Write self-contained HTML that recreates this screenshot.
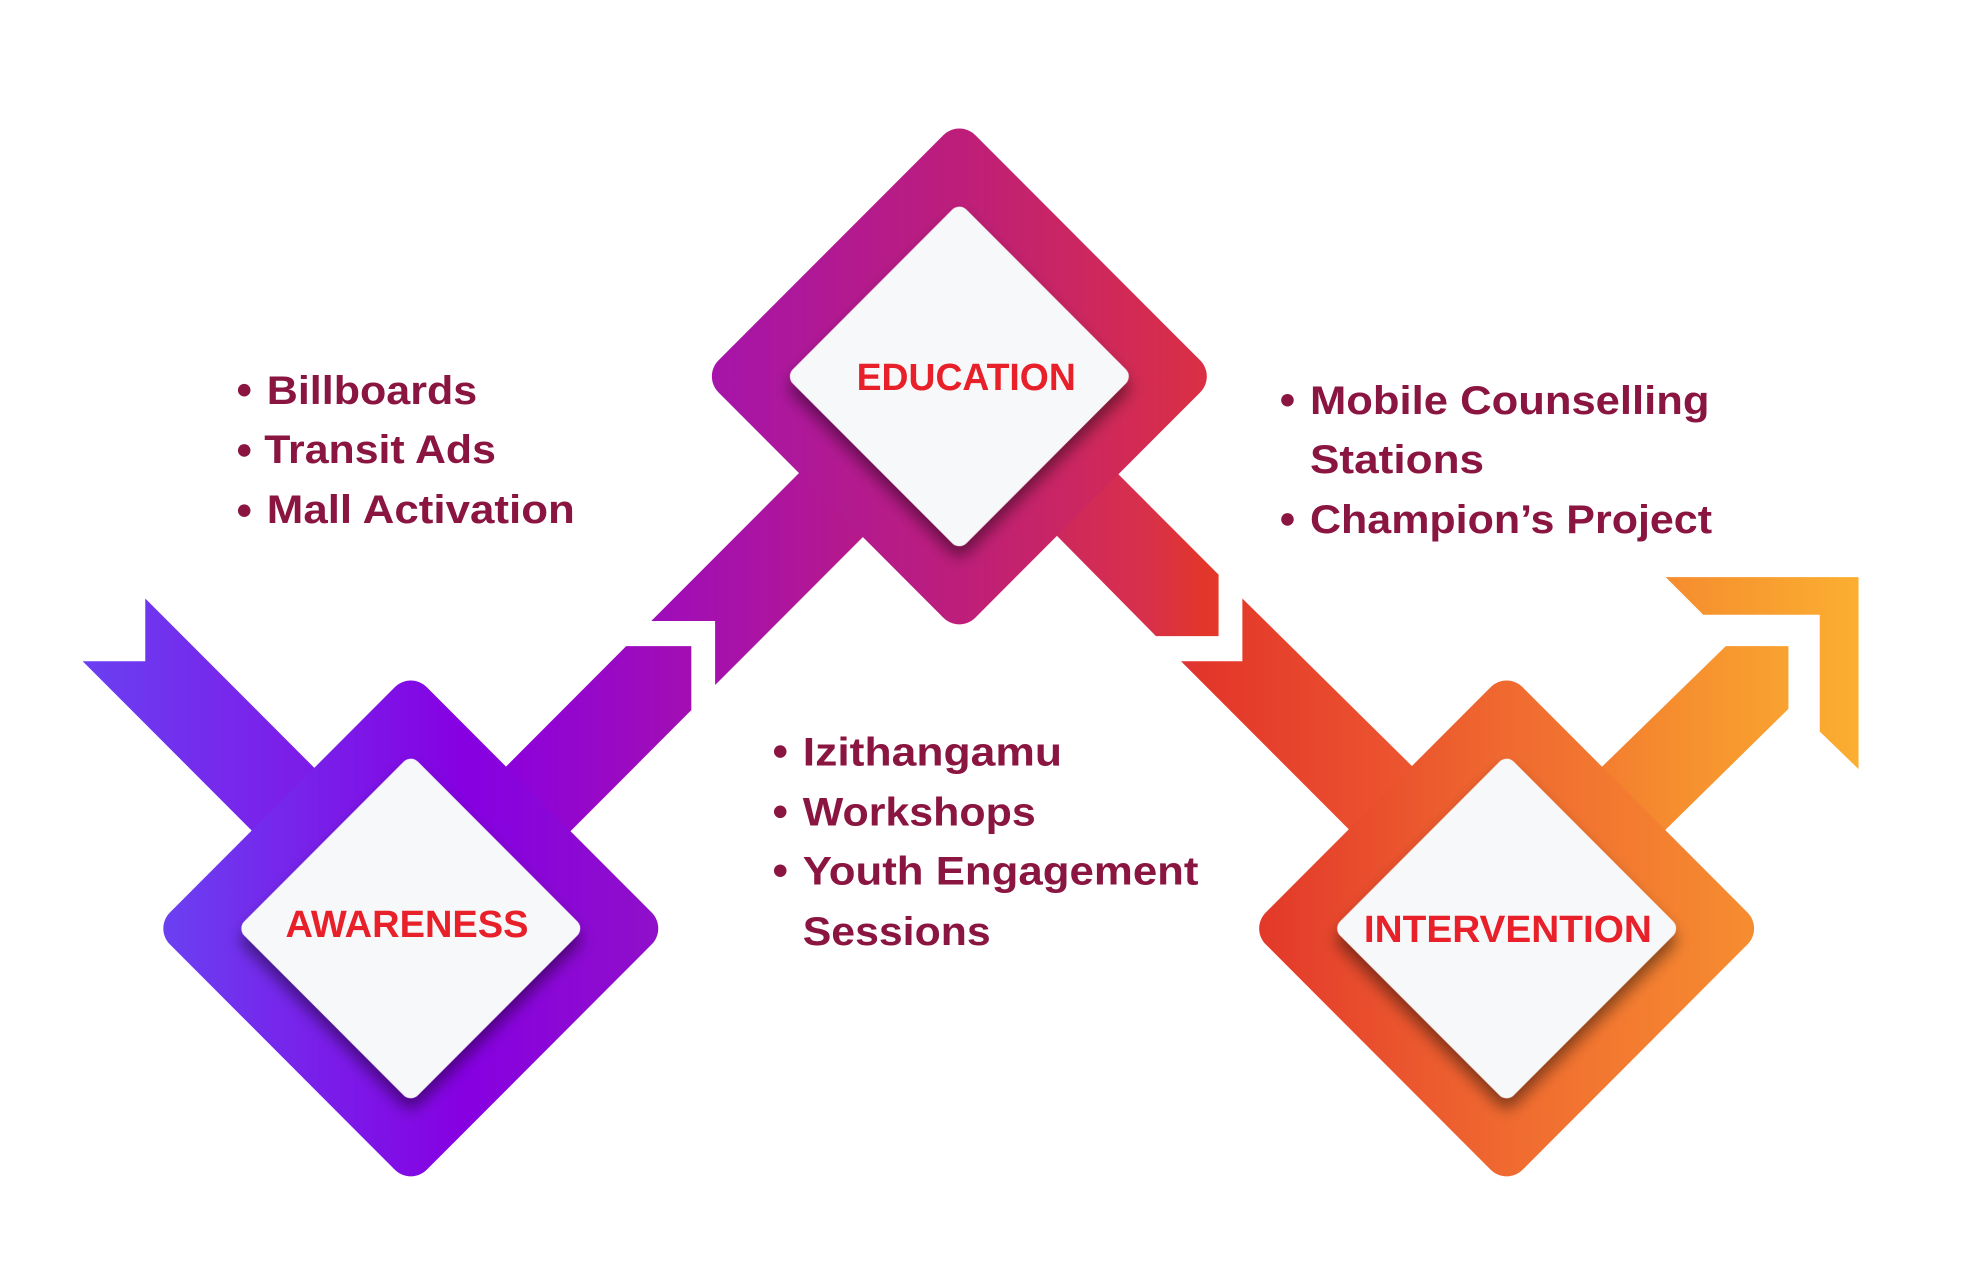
<!DOCTYPE html>
<html><head><meta charset="utf-8"><style>
html,body{margin:0;padding:0;background:#fff;}
svg{display:block;}
text{font-family:"Liberation Sans",sans-serif;font-weight:bold;}
</style></head><body>
<svg width="1965" height="1276" viewBox="0 0 1569 1017" preserveAspectRatio="none" xmlns="http://www.w3.org/2000/svg">
<defs>
<linearGradient id="g" gradientUnits="userSpaceOnUse" x1="60" y1="0" x2="1490" y2="0">
<stop offset="0" stop-color="#6a40f2"/>
<stop offset="0.23" stop-color="#8a00e0"/>
<stop offset="0.37" stop-color="#a812a8"/>
<stop offset="0.5" stop-color="#c4206e"/>
<stop offset="0.6" stop-color="#d8304a"/>
<stop offset="0.63" stop-color="#e2362a"/>
<stop offset="0.76" stop-color="#ee5a30"/>
<stop offset="0.9" stop-color="#f6902f"/>
<stop offset="1" stop-color="#fbb030"/>
</linearGradient>
<linearGradient id="ga" gradientUnits="userSpaceOnUse" x1="-145" y1="145" x2="145" y2="-145">
<stop offset="0" stop-color="#6a42f2"/><stop offset="0.6" stop-color="#8600e2"/><stop offset="1" stop-color="#9010c8"/>
</linearGradient>
<linearGradient id="ge" gradientUnits="userSpaceOnUse" x1="-145" y1="145" x2="145" y2="-145">
<stop offset="0" stop-color="#a514ac"/><stop offset="0.5" stop-color="#bd1e7a"/><stop offset="1" stop-color="#dc3042"/>
</linearGradient>
<linearGradient id="gi" gradientUnits="userSpaceOnUse" x1="-145" y1="145" x2="145" y2="-145">
<stop offset="0" stop-color="#e2362a"/><stop offset="0.5" stop-color="#f06a30"/><stop offset="1" stop-color="#f68e30"/>
</linearGradient>
<filter id="sh" x="-30%" y="-30%" width="160%" height="160%">
<feDropShadow dx="6" dy="6" stdDeviation="6" flood-color="#000" flood-opacity="0.45"/>
</filter>
</defs>

<polygon fill="url(#g)" points="66,527 116,527 116,477 260,621 210,671"/>
<polygon fill="url(#g)" points="395,620 500,515 552,515 552,566 448,670"/>
<polygon fill="url(#g)" points="520,495 571,495 571,546 700,417 648,367"/>
<polygon fill="url(#g)" points="835,418 923,507 973,507 973,458 885,370"/>
<polygon fill="url(#g)" points="943,527 992,527 992,477 1137,620 1087,671"/>
<polygon fill="url(#g)" points="1270,620 1378,515 1428,515 1428,565 1320,671"/>
<polygon fill="url(#g)" points="1330,460 1484,460 1484,613 1453,583 1453,490 1360,490"/>

<g transform="translate(328,740) rotate(45)"><rect x="-145" y="-145" width="290" height="290" rx="18" fill="url(#ga)"/></g>
<g transform="translate(328,740) rotate(45)" filter="url(#sh)"><rect x="-98" y="-98" width="196" height="196" rx="8" fill="#f7f8fa"/></g>

<g transform="translate(766,300) rotate(45)"><rect x="-145" y="-145" width="290" height="290" rx="18" fill="url(#ge)"/></g>
<g transform="translate(766,300) rotate(45)" filter="url(#sh)"><rect x="-98" y="-98" width="196" height="196" rx="8" fill="#f7f8fa"/></g>

<g transform="translate(1203,740) rotate(45)"><rect x="-145" y="-145" width="290" height="290" rx="18" fill="url(#gi)"/></g>
<g transform="translate(1203,740) rotate(45)" filter="url(#sh)"><rect x="-98" y="-98" width="196" height="196" rx="8" fill="#f7f8fa"/></g>

<text x="228" y="747" font-size="30" fill="#e8202a" textLength="194" lengthAdjust="spacingAndGlyphs">AWARENESS</text>
<text x="684" y="311" font-size="30" fill="#e8202a" textLength="175" lengthAdjust="spacingAndGlyphs">EDUCATION</text>
<text x="1089" y="751" font-size="30" fill="#e8202a" textLength="230" lengthAdjust="spacingAndGlyphs">INTERVENTION</text>

<g fill="#8a1540" font-size="32">
<circle cx="195" cy="311" r="5"/><text x="213" y="322" textLength="168" lengthAdjust="spacingAndGlyphs">Billboards</text>
<circle cx="195" cy="359" r="5"/><text x="211" y="369" textLength="185" lengthAdjust="spacingAndGlyphs">Transit Ads</text>
<circle cx="195" cy="407" r="5"/><text x="213" y="417" textLength="246" lengthAdjust="spacingAndGlyphs">Mall Activation</text>

<circle cx="623" cy="599" r="5"/><text x="641" y="610" textLength="207" lengthAdjust="spacingAndGlyphs">Izithangamu</text>
<circle cx="623" cy="647" r="5"/><text x="641" y="658" textLength="186" lengthAdjust="spacingAndGlyphs">Workshops</text>
<circle cx="623" cy="694" r="5"/><text x="641" y="705" textLength="316" lengthAdjust="spacingAndGlyphs">Youth Engagement</text>
<text x="641" y="753" textLength="150" lengthAdjust="spacingAndGlyphs">Sessions</text>

<circle cx="1028" cy="319" r="5"/><text x="1046" y="330" textLength="319" lengthAdjust="spacingAndGlyphs">Mobile Counselling</text>
<text x="1046" y="377" textLength="139" lengthAdjust="spacingAndGlyphs">Stations</text>
<circle cx="1028" cy="414" r="5"/><text x="1046" y="425" textLength="321" lengthAdjust="spacingAndGlyphs">Champion’s Project</text>
</g>
</svg>
</body></html>
